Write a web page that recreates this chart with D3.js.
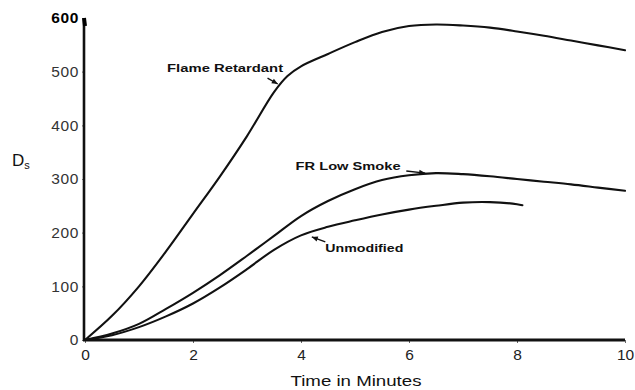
<!DOCTYPE html>
<html>
<head>
<meta charset="utf-8">
<script src="https://cdn.jsdelivr.net/npm/d3@7"></script>
<style>
  html, body { margin: 0; padding: 0; background: #fff; }
  svg { display: block; }
</style>
</head>
<body>
<svg id="chart" width="635" height="390"></svg>
<script>
// ---- data ----
const xTicks = [0, 2, 4, 6, 8, 10];
const yTicks = [0, 100, 200, 300, 400, 500, 600];

const frTime   = [0, 0.5, 1, 1.5, 2, 2.5, 3, 3.5, 3.75, 4, 4.5, 5, 5.5, 6, 6.5, 7, 7.5, 8, 8.5, 9, 9.5, 10];
const frDs     = [0, 45, 100, 165, 235, 305, 380, 462, 492, 510, 533, 555, 574, 585, 588, 586, 582, 575, 567, 558, 549, 540];

const lowTime  = [0, 0.5, 1, 1.5, 2, 2.5, 3, 3.5, 4, 4.5, 5, 5.5, 6, 6.5, 7, 7.5, 8, 8.5, 9, 9.5, 10];
const lowDs    = [0, 12, 30, 58, 88, 121, 157, 194, 231, 259, 281, 298, 307, 311, 309, 305, 300, 295, 290, 284, 278];

const unmTime  = [0, 0.5, 1, 1.5, 2, 2.5, 3, 3.5, 4, 4.5, 5, 5.5, 6, 6.5, 7, 7.5, 8, 8.1];
const unmDs    = [0, 9, 24, 44, 68, 98, 132, 168, 195, 211, 223, 234, 243, 250, 256, 257, 253, 251];

const seriesNames = ["Flame Retardant", "FR Low Smoke", "Unmodified"];

// ---- layout ----
const svg = d3.select("#chart");
const x = d3.scaleLinear().domain([0, 10]).range([85, 625]);
const y = d3.scaleLinear().domain([0, 600]).range([340, 18]);

const font = "'Liberation Sans', Arial, Helvetica, sans-serif";

// axes
const yAxis = d3.axisLeft(y).tickValues(yTicks).tickSize(2).tickPadding(3);
const gy = svg.append("g").attr("transform", "translate(84,0)").call(yAxis);
gy.select(".domain").remove();
gy.selectAll(".tick line").attr("stroke", "#888").attr("stroke-width", 1.2);
gy.selectAll("text").attr("font-family", font).attr("font-size", 15.5)
  .attr("letter-spacing", 0.6).attr("fill", "#333");
gy.selectAll(".tick").filter(d => d === 600).select("text").attr("fill", "#000").attr("font-weight", "bold");

const xAxis = d3.axisBottom(x).tickValues(xTicks).tickSize(3).tickPadding(6);
const gx = svg.append("g").attr("transform", "translate(0,340)").call(xAxis);
gx.select(".domain").remove();
gx.selectAll(".tick line").attr("stroke", "#666").attr("stroke-width", 1);
gx.selectAll("text").attr("font-family", font).attr("font-size", 15.5).attr("fill", "#222");

// axis lines
svg.append("line").attr("x1", 84).attr("x2", 84).attr("y1", y(600)).attr("y2", y(0) + 1)
  .attr("stroke", "#111").attr("stroke-width", 2.6);
svg.append("line").attr("x1", 84).attr("x2", 85).attr("y1", y(600)).attr("y2", y(600) + 8)
  .attr("stroke", "#000").attr("stroke-width", 4);
svg.append("line").attr("x1", 83).attr("x2", x(10)).attr("y1", y(0)).attr("y2", y(0))
  .attr("stroke", "#111").attr("stroke-width", 3);

// axis titles
svg.append("text").attr("x", 12).attr("y", 166).attr("font-family", font)
  .attr("font-size", 17).attr("fill", "#111").text("D")
  .append("tspan").attr("font-size", 11).attr("dy", 3).text("s");
svg.append("text").attr("x", 356).attr("y", 386).attr("text-anchor", "middle")
  .attr("font-family", font).attr("font-size", 15).attr("fill", "#111")
  .attr("textLength", 131).attr("lengthAdjust", "spacingAndGlyphs").text("Time in Minutes");

// curves
const line = d3.line().x(d => x(d[0])).y(d => y(d[1])).curve(d3.curveCatmullRom.alpha(0.5));
const series = [
  d3.zip(frTime, frDs),
  d3.zip(lowTime, lowDs),
  d3.zip(unmTime, unmDs)
];
svg.append("g").selectAll("path").data(series).join("path")
  .attr("d", line).attr("fill", "none").attr("stroke", "#111").attr("stroke-width", 2.1)
  .attr("stroke-linejoin", "round").attr("stroke-linecap", "round");

// annotations (label text position + arrow tail -> tip, in data coords)
const notes = [
  { name: seriesNames[0], tx: 1.52, ty: 500, w: 116, tail: [3.38, 488], tip: [3.57, 477] },
  { name: seriesNames[1], tx: 3.9, ty: 317, w: 105, tail: [5.95, 315], tip: [6.3, 311] },
  { name: seriesNames[2], tx: 4.45, ty: 164, w: 78, tail: [4.45, 183], tip: [4.2, 192] }
];
notes.forEach(n => {
  svg.append("text").attr("x", x(n.tx)).attr("y", y(n.ty))
    .attr("font-family", font).attr("font-weight", "bold").attr("font-size", 11)
    .attr("fill", "#111").attr("textLength", n.w).attr("lengthAdjust", "spacingAndGlyphs")
    .text(n.name);
  const x1 = x(n.tail[0]), y1 = y(n.tail[1]), x2 = x(n.tip[0]), y2 = y(n.tip[1]);
  svg.append("line").attr("x1", x1).attr("y1", y1).attr("x2", x2).attr("y2", y2)
    .attr("stroke", "#111").attr("stroke-width", 1.4);
  const ang = Math.atan2(y2 - y1, x2 - x1);
  const L = 6, Wd = 2.6;
  const bx = x2 - L * Math.cos(ang), by = y2 - L * Math.sin(ang);
  const px = -Math.sin(ang) * Wd, py = Math.cos(ang) * Wd;
  svg.append("path")
    .attr("d", `M${x2},${y2}L${bx + px},${by + py}L${bx - px},${by - py}Z`)
    .attr("fill", "#111");
});
</script>
</body>
</html>
